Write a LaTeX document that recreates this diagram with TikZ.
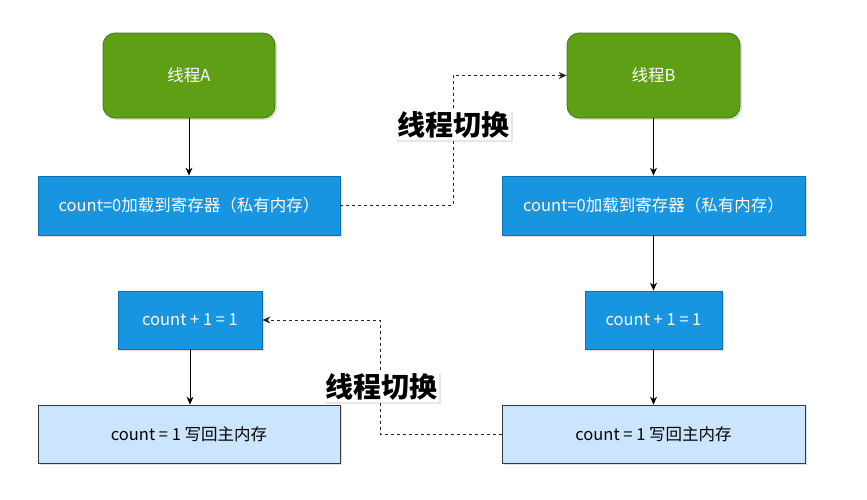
\documentclass[tikz,border=0pt]{standalone}
\usepackage{fontspec}
\setmainfont{Noto Sans CJK SC}
\usetikzlibrary{arrows.meta,shadows}
\definecolor{gfill}{HTML}{5E9F16}
\definecolor{gdraw}{HTML}{3F7A0C}
\definecolor{bfill}{HTML}{1795E0}
\definecolor{bdraw}{HTML}{0F6FAF}
\definecolor{lfill}{HTML}{CCE5FF}
\definecolor{ldraw}{HTML}{36393D}
\tikzset{
  shad/.style={drop shadow={opacity=0.25,shadow xshift=2pt,shadow yshift=-2pt}},
  thread/.style={shad,draw=gdraw,fill=gfill,rounded corners=12pt,text=white,font=\fontsize{16.5}{18}\selectfont,line width=0.8pt},
  bluebox/.style={shad,draw=bdraw,fill=bfill,text=white,font=\fontsize{16.5}{18}\selectfont,line width=0.8pt},
  lightbox/.style={shad,draw=ldraw,fill=lfill,text=black,font=\fontsize{16.5}{18}\selectfont,line width=0.8pt},
  flow/.style={draw=black,line width=1pt,-{Stealth[length=8pt,width=7pt]}},
  switch/.style={draw=black!85,line width=1pt,dash pattern=on 3pt off 3pt,-{Stealth[length=8pt,width=7pt]}},
  swlabel/.style={fill=white,inner sep=2pt,font=\fontsize{28}{31}\selectfont\bfseries,text=black,
    drop shadow={opacity=0.2,shadow xshift=2pt,shadow yshift=-2pt}}
}
\begin{document}
\begin{tikzpicture}[x=1pt,y=-1pt]
\useasboundingbox (0,0) rectangle (867,499);
\node[thread,minimum width=172pt,minimum height=85pt] (A) at (189,75.5) {线程A};
\node[thread,minimum width=173pt,minimum height=85pt] (B) at (653.5,75.5) {线程B};
\node[bluebox,minimum width=302pt,minimum height=59pt] (A1) at (189,205.5) {count=0加载到寄存器（私有内存）};
\node[bluebox,minimum width=303pt,minimum height=59pt] (B1) at (653.5,205.5) {count=0加载到寄存器（私有内存）};
\node[bluebox,minimum width=144pt,minimum height=58pt] (A2) at (190,320) {count + 1 = 1};
\node[bluebox,minimum width=137pt,minimum height=58pt] (B2) at (653.5,320) {count + 1 = 1};
\node[lightbox,minimum width=302pt,minimum height=58pt] (A3) at (189,434) {count = 1 写回主内存};
\node[lightbox,minimum width=303pt,minimum height=58pt] (B3) at (653.5,434) {count = 1 写回主内存};

\draw[flow] (A) -- (A1);
\draw[flow] (A2.south) -- (A2.south |- A3.north);
\draw[flow] (B) -- (B1);
\draw[flow] (B1) -- (B2);
\draw[flow] (B2) -- (B2 |- B3.north);

\coordinate (s1) at (453,205.5);
\coordinate (s2) at (380,434);
\draw[switch] (A1.east) -- (s1) |- (B.west);
\draw[switch] (B3.west) -- (s2) |- (A2.east);
\node[swlabel] (L1) at (453,125) {线程切换};
\node[swlabel] (L2) at (381,387) {线程切换};
\end{tikzpicture}
\end{document}
